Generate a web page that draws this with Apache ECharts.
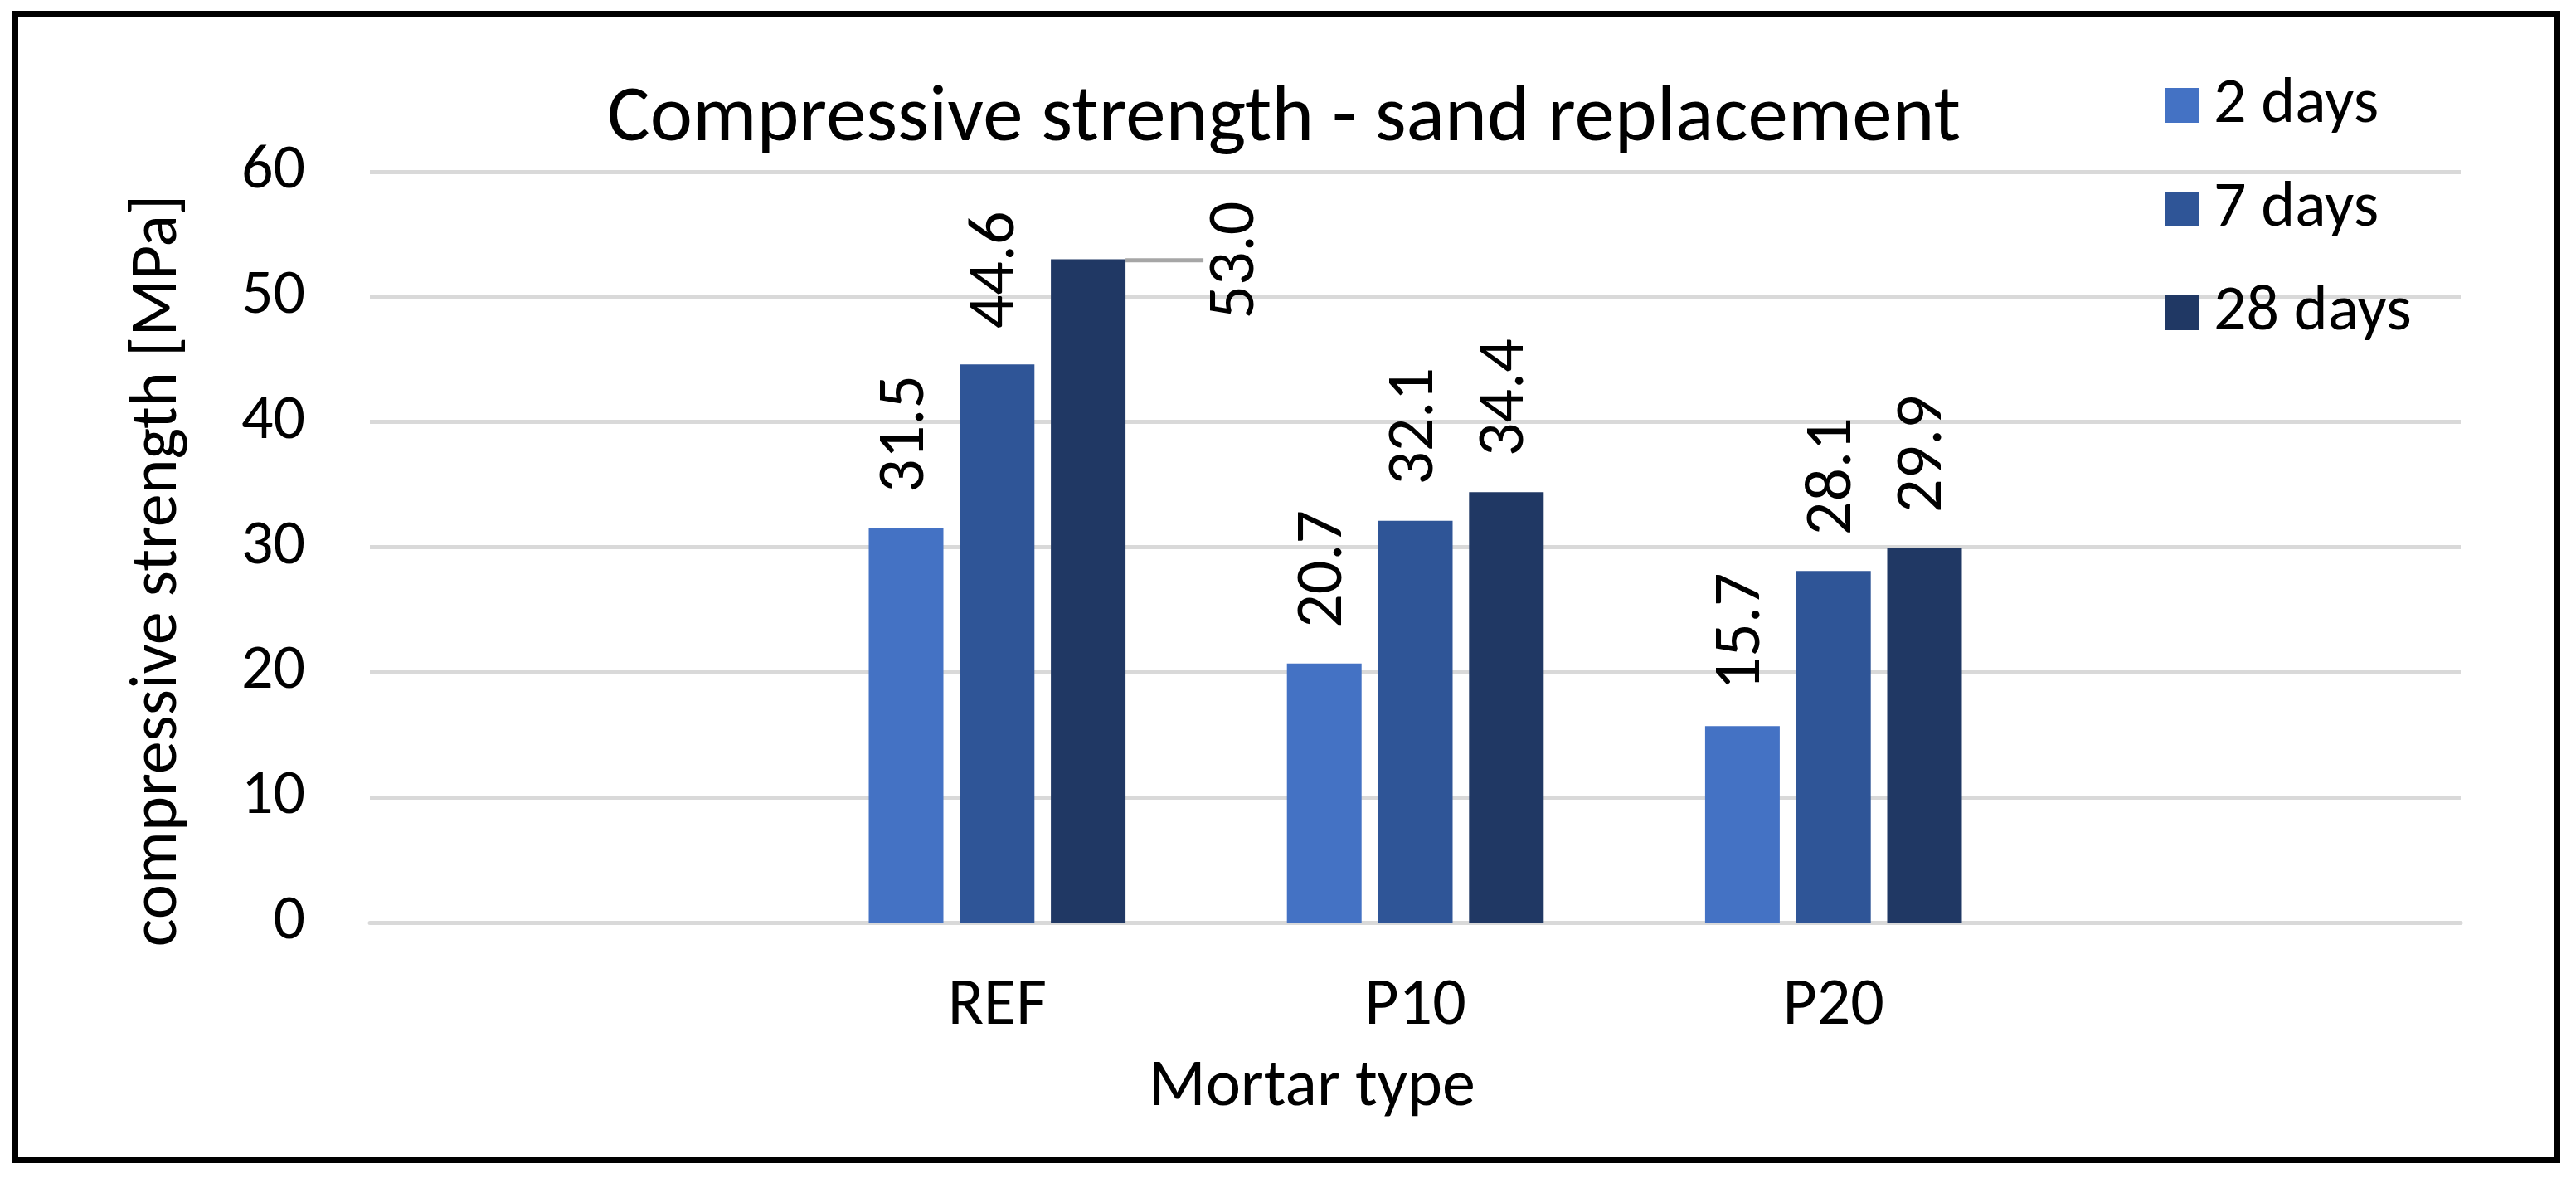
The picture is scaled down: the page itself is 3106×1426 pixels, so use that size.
<!DOCTYPE html>
<html>
<head>
<meta charset="utf-8">
<script src="https://cdn.jsdelivr.net/npm/echarts@6/dist/echarts.min.js"></script>
<style>
html,body{margin:0;padding:0;background:#fff;}
#chart{width:3106px;height:1426px;}
</style>
</head>
<body>
<div id="chart"></div>
<script>
// ---- data ----
var categories = ['', 'REF', 'P10', 'P20', ''];
var seriesNames = ['2 days', '7 days', '28 days'];
var days2  = ['-', 31.5, 20.7, 15.7, '-'];
var days7  = ['-', 44.6, 32.1, 28.1, '-'];
var days28 = ['-', 53.0, 34.4, 29.9, '-'];
var yMin = 0, yMax = 60, yInterval = 10;
var titleText = 'Compressive strength - sand replacement';
var yName = 'compressive strength [MPa]';
var xName = 'Mortar type';
// index (series, category) of the label that is moved beside its bar with a leader line
var movedLabel = {series: 2, dataIndex: 1};

var FONT = "Carlito, Calibri, 'Liberation Sans Narrow', 'Open Sans', sans-serif";
var colors = ['#4472C4', '#2F5597', '#203864'];

var chart = echarts.init(document.getElementById('chart'), null, {renderer: 'canvas'});

function buildData(values, sIdx) {
  return values.map(function (v, i) {
    if (sIdx === movedLabel.series && i === movedLabel.dataIndex) {
      return {value: v, labelLine: {show: true, lineStyle: {color: '#A6A6A6', width: 5}}};
    }
    return v;
  });
}

function makeSeries(name, values, idx) {
  return {
    name: name,
    type: 'bar',
    data: buildData(values, idx),
    barGap: '22%',
    barCategoryGap: '38.6%',
    itemStyle: {color: colors[idx]},
    label: {
      show: true,
      position: 'top',
      distance: 43,
      rotate: 90,
      align: 'left',
      verticalAlign: 'middle',
      fontFamily: FONT,
      fontSize: 80,
      color: '#000',
      formatter: function (p) { return Number(p.value).toFixed(1); }
    },
    labelLine: {show: false},
    labelLayout: function (p) {
      if (p.seriesIndex === movedLabel.series && p.dataIndex === movedLabel.dataIndex) {
        return {x: p.rect.x + p.rect.width / 2 + 179, y: p.rect.y + 72};
      }
      return {};
    },
    emphasis: {disabled: true}
  };
}

var option = {
  backgroundColor: '#fff',
  animation: false,
  title: {
    text: titleText,
    left: 1548,
    top: 96,
    textAlign: 'center',
    padding: 0,
    textStyle: {fontFamily: FONT, fontSize: 97, fontWeight: 'normal', color: '#000'}
  },
  legend: {
    orient: 'vertical',
    left: 2610,
    top: 88,
    itemWidth: 42,
    itemHeight: 42,
    itemGap: 47,
    icon: 'rect',
    padding: 0,
    textStyle: {fontFamily: FONT, fontSize: 78, color: '#000', padding: [0, 0, 0, 12]},
    data: seriesNames
  },
  grid: {left: 446, right: 139, top: 207, bottom: 314, containLabel: false},
  xAxis: {
    type: 'category',
    data: categories,
    axisLine: {show: true, lineStyle: {color: '#D9D9D9', width: 5}},
    axisTick: {show: false},
    axisLabel: {fontFamily: FONT, fontSize: 80, color: '#000', margin: 62, interval: 0}
  },
  yAxis: {
    type: 'value',
    min: yMin, max: yMax, interval: yInterval,
    axisLine: {show: false},
    axisTick: {show: false},
    splitLine: {lineStyle: {color: '#D9D9D9', width: 5}},
    axisLabel: {fontFamily: FONT, fontSize: 76, color: '#000', margin: 78}
  },
  graphic: [
    {type: 'rect', shape: {x: 18.5, y: 16.5, width: 3065, height: 1382},
     style: {fill: 'none', stroke: '#000', lineWidth: 7}, silent: true},
    {type: 'text', x: 192, y: 688, rotation: Math.PI / 2,
     style: {text: yName, fontFamily: FONT, fontSize: 80, fill: '#000', align: 'center', verticalAlign: 'middle'}},
    {type: 'text', x: 1582, y: 1312,
     style: {text: xName, fontFamily: FONT, fontSize: 80, fill: '#000', align: 'center', verticalAlign: 'middle'}}
  ],
  series: [
    makeSeries(seriesNames[0], days2, 0),
    makeSeries(seriesNames[1], days7, 1),
    makeSeries(seriesNames[2], days28, 2)
  ]
};
chart.setOption(option);
</script>
</body>
</html>
